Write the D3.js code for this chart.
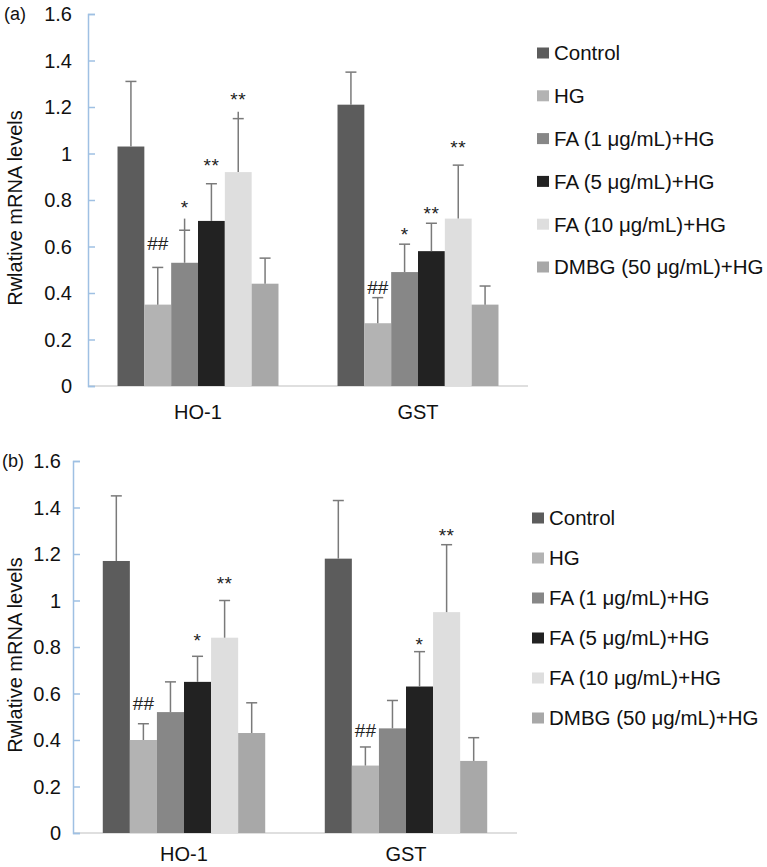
<!DOCTYPE html>
<html><head><meta charset="utf-8">
<script src="https://cdn.jsdelivr.net/npm/d3@7"></script>
<style>body{margin:0;background:#fff}svg{display:block;font-family:"Liberation Sans",Arial,sans-serif}</style>
</head><body><svg id="c" width="767" height="867"></svg>
<script>
const categories = ["HO-1", "GST"];
const series = ["Control", "HG", "FA (1 μg/mL)+HG", "FA (5 μg/mL)+HG", "FA (10 μg/mL)+HG", "DMBG (50 μg/mL)+HG"];
const seriesColors = ["#5c5c5c", "#b3b3b3", "#878787", "#222222", "#dedede", "#a8a8a8"];
const yTicks = [0, 0.2, 0.4, 0.6, 0.8, 1, 1.2, 1.4, 1.6];
const yTickLabels = ["0", "0.2", "0.4", "0.6", "0.8", "1", "1.2", "1.4", "1.6"];

// Panel (a)
const aHO1 = [1.03, 0.35, 0.53, 0.71, 0.92, 0.44];
const aHO1Err = [1.31, 0.51, 0.67, 0.87, 1.15, 0.55];
const aHO1Stem = [1.31, 0.51, 0.72, 0.87, 1.18, 0.55];
const aHO1Mark = ["", "##", "*", "**", "**", ""];
const aHO1MarkAt = [0, 0.615, 0.787, 0.968, 1.252, 0];
const aGST = [1.21, 0.27, 0.49, 0.58, 0.72, 0.35];
const aGSTErr = [1.35, 0.38, 0.61, 0.70, 0.95, 0.43];
const aGSTStem = [1.35, 0.38, 0.61, 0.70, 0.95, 0.43];
const aGSTMark = ["", "##", "*", "**", "**", ""];
const aGSTMarkAt = [0, 0.426, 0.671, 0.761, 1.045, 0];

// Panel (b)
const bHO1 = [1.17, 0.40, 0.52, 0.65, 0.84, 0.43];
const bHO1Err = [1.45, 0.47, 0.65, 0.76, 1.00, 0.56];
const bHO1Mark = ["", "##", "", "*", "**", ""];
const bHO1MarkAt = [0, 0.561, 0, 0.849, 1.094, 0];
const bGST = [1.18, 0.29, 0.45, 0.63, 0.95, 0.31];
const bGSTErr = [1.43, 0.37, 0.57, 0.78, 1.24, 0.41];
const bGSTMark = ["", "##", "", "*", "**", ""];
const bGSTMarkAt = [0, 0.445, 0, 0.832, 1.30, 0];

const svg = d3.select("#c");

function panel(cfg) {
  const g = svg.append("g");
  const y = d3.scaleLinear().domain([0, 1.6]).range([cfg.yBase, cfg.yTop]);
  const x0 = d3.scaleBand().domain(categories).range([cfg.xLeft, cfg.xRight]).padding(0);
  const x1 = d3.scaleBand().domain(series).range([0, x0.bandwidth()]).paddingInner(0).paddingOuter(1.1);

  // x axis line
  g.append("line").attr("x1", cfg.xLeft).attr("x2", cfg.xRight)
    .attr("y1", y(0)).attr("y2", y(0)).attr("stroke", "#d4d4d4").attr("stroke-width", 1.5);

  // y axis
  const ya = g.append("g").attr("transform", `translate(${cfg.xLeft},0)`)
    .call(d3.axisRight(y).tickValues(yTicks).tickSize(7).tickFormat(() => ""));
  ya.select(".domain").attr("stroke", "#9fc0e3").attr("stroke-width", 1.5);
  ya.selectAll(".tick line").attr("stroke", "#9fc0e3").attr("stroke-width", 1.5);
  ya.selectAll(".tick text").remove();
  g.selectAll(".ylab").data(yTicks).enter().append("text")
    .attr("x", cfg.labelRight).attr("y", d => y(d)).attr("dy", "0.36em")
    .attr("text-anchor", "end").attr("font-size", 20).attr("fill", "#111")
    .text((d, i) => yTickLabels[i]);

  // y title
  g.append("text").attr("transform", `translate(${cfg.titleX},${(y(0) + y(1.6)) / 2 + 8}) rotate(-90)`)
    .attr("text-anchor", "middle").attr("font-size", 20).attr("fill", "#111")
    .text("Rwlative mRNA levels");

  // panel letter
  g.append("text").attr("x", cfg.letterX).attr("y", y(1.6)).attr("dy", "0.36em")
    .attr("font-size", 18).attr("fill", "#111").text(cfg.letter);

  // category labels
  g.selectAll(".cat").data(categories).enter().append("text")
    .attr("x", d => x0(d) + x0.bandwidth() / 2).attr("y", y(0) + cfg.catDy)
    .attr("text-anchor", "middle").attr("font-size", 20).attr("fill", "#111").text(d => d);

  cfg.groups.forEach((grp, ci) => {
    const cat = categories[ci];
    const gx = x0(cat);
    series.forEach((s, si) => {
      const bx = gx + x1(s);
      const bw = x1.bandwidth();
      g.append("rect").attr("x", bx).attr("y", y(grp.v[si]))
        .attr("width", bw).attr("height", y(0) - y(grp.v[si])).attr("fill", seriesColors[si]);
      const cx = bx + bw / 2;
      const top = grp.stem ? grp.stem[si] : grp.err[si];
      g.append("line").attr("x1", cx).attr("x2", cx).attr("y1", y(grp.v[si])).attr("y2", y(top))
        .attr("stroke", "#7a7a7a").attr("stroke-width", 1.5);
      g.append("line").attr("x1", cx - 5.5).attr("x2", cx + 5.5).attr("y1", y(grp.err[si])).attr("y2", y(grp.err[si]))
        .attr("stroke", "#7a7a7a").attr("stroke-width", 1.5);
      const m = grp.mark[si];
      if (m) {
        const isHash = m.startsWith("#");
        g.append("text").attr("x", cx).attr("y", y(grp.markAt[si]) + (isHash ? 7 : 11))
          .attr("text-anchor", "middle").attr("font-size", isHash ? 19 : 19)
          .attr("letter-spacing", isHash ? 0 : 0.5)
          .attr("fill", "#222").text(m);
      }
    });
  });

  // legend
  const lg = g.append("g");
  series.forEach((s, i) => {
    const ly = cfg.legTop + i * cfg.legStep;
    lg.append("rect").attr("x", cfg.legX).attr("y", ly - 5.5).attr("width", 12).attr("height", 11)
      .attr("fill", seriesColors[i]);
    lg.append("text").attr("x", cfg.legX + 17).attr("y", ly).attr("dy", "0.36em")
      .attr("font-size", 20.5).attr("fill", "#111").text(s);
  });
}

panel({
  letter: "(a)", letterX: 4, xLeft: 88, xRight: 528, yTop: 14, yBase: 386,
  labelRight: 72, titleX: 22, catDy: 33,
  legX: 537, legTop: 53, legStep: 42.8,
  groups: [
    { v: aHO1, err: aHO1Err, stem: aHO1Stem, mark: aHO1Mark, markAt: aHO1MarkAt },
    { v: aGST, err: aGSTErr, stem: aGSTStem, mark: aGSTMark, markAt: aGSTMarkAt }
  ]
});
panel({
  letter: "(b)", letterX: 2, xLeft: 73, xRight: 517, yTop: 461, yBase: 833,
  labelRight: 61, titleX: 22, catDy: 28,
  legX: 532, legTop: 518, legStep: 40,
  groups: [
    { v: bHO1, err: bHO1Err, mark: bHO1Mark, markAt: bHO1MarkAt },
    { v: bGST, err: bGSTErr, mark: bGSTMark, markAt: bGSTMarkAt }
  ]
});
</script></body></html>
